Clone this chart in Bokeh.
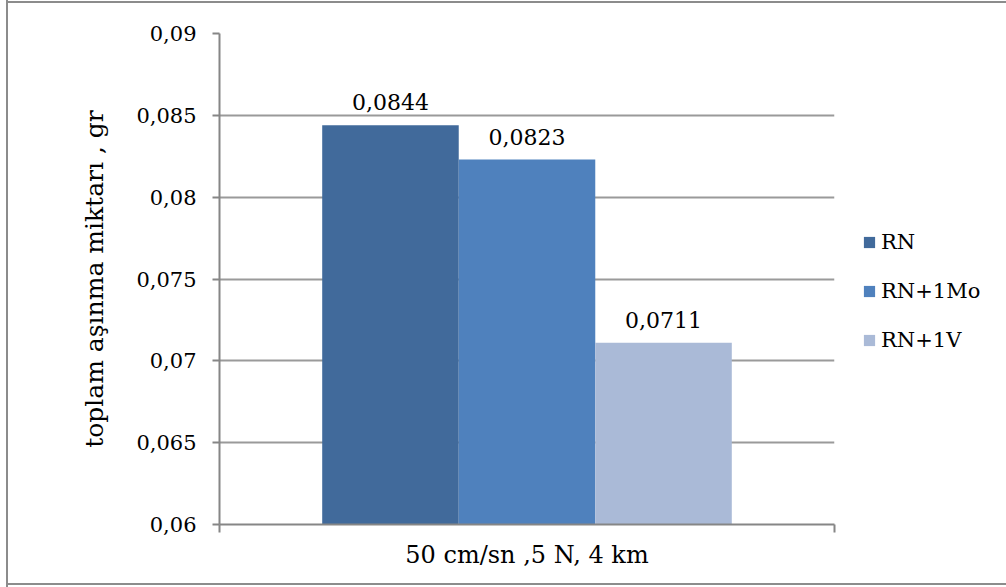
from bokeh.plotting import figure
from bokeh.models import (Range1d, FixedTicker, Legend, LegendItem, ColumnDataSource,
                          InlineStyleSheet)
from bokeh.core.properties import value
from bokeh.embed import file_html
from bokeh.resources import INLINE

# data
category = ["50 cm/sn ,5 N, 4 km"]
series = ["RN", "RN+1Mo", "RN+1V"]
values = [0.0844, 0.0823, 0.0711]
colors = ["#416A9B", "#4F81BD", "#AABAD7"]
y_ticks = [0.06, 0.065, 0.07, 0.075, 0.08, 0.085, 0.09]
y_tick_labels = ["0,06", "0,065", "0,07", "0,075", "0,08", "0,085", "0,09"]

FONT = "DejaVu Serif"
GRAY = "#868686"

# one category slot spans [0, 1] on the x scale
p = figure(frame_width=615, frame_height=491, x_range=Range1d(0, len(category)),
           y_range=Range1d(0.06, 0.09), output_backend="svg", toolbar_location=None,
           min_border_left=219, min_border_right=172,
           min_border_top=33, min_border_bottom=63)
p.outline_line_color = None
p.background_fill_color = "white"
p.border_fill_color = None
p.xgrid.grid_line_color = None

# thin gray frame around the whole chart area (left, top and bottom edges)
p.stylesheets = [InlineStyleSheet(css=(
    ":host { background: white; box-shadow: "
    "inset 6px 0 0 0 #ffffff, inset 8px 0 0 0 #8c8c8c, "
    "inset 0 1px 0 0 #ffffff, inset 0 3px 0 0 #8c8c8c, "
    "inset 0 -2px 0 0 #ffffff, inset 0 -4px 0 0 #8c8c8c; }"
))]

# y axis
ya = p.yaxis[0]
ya.ticker = FixedTicker(ticks=y_ticks)
ya.major_label_overrides = {t: s for t, s in zip(y_ticks, y_tick_labels)}
ya.major_label_text_font = FONT
ya.major_label_text_font_size = "21px"
ya.major_label_text_color = "black"
ya.major_label_standoff = 16
ya.axis_line_color = GRAY
ya.axis_line_width = 2
ya.major_tick_line_color = GRAY
ya.major_tick_line_width = 2
ya.major_tick_out = 7
ya.major_tick_in = 0
ya.minor_tick_line_color = None
ya.axis_label = "toplam aşınma miktarı , gr"
ya.axis_label_text_font = FONT
ya.axis_label_text_font_size = "25px"
ya.axis_label_text_font_style = "normal"
ya.axis_label_text_color = "black"
ya.axis_label_standoff = 24

p.ygrid.grid_line_color = "#9a9a9a"
p.ygrid.grid_line_width = 2

# x axis: ticks at the category boundaries, category name centred below
xa = p.xaxis[0]
bounds = list(range(len(category) + 1))
xa.ticker = FixedTicker(ticks=bounds)
xa.major_label_overrides = {b: "" for b in bounds}
xa.major_label_text_font_size = "1px"
xa.major_label_standoff = 0
xa.axis_line_color = GRAY
xa.axis_line_width = 2
xa.major_tick_line_color = GRAY
xa.major_tick_line_width = 2
xa.major_tick_out = 8
xa.major_tick_in = 0
xa.minor_tick_line_color = None
xa.axis_label = category[0]
xa.axis_label_text_font = FONT
xa.axis_label_text_font_size = "24px"
xa.axis_label_text_font_style = "normal"
xa.axis_label_text_color = "black"
xa.axis_label_standoff = 8

# bars, grouped around the centre of the category slot
width = 0.222
offsets = [-width, 0.0, width]
items = []
for name, val, col, off in zip(series, values, colors, offsets):
    xs = [i + 0.5 + off for i in range(len(category))]
    src = ColumnDataSource(dict(x=xs, top=[val], label=[f"{val:.4f}".replace(".", ",")]))
    r = p.vbar(x="x", top="top", bottom=0.06, width=width,
               source=src, fill_color=col, line_color=None)
    p.text(x="x", y="top", text="label", source=src,
           text_align="center", text_baseline="bottom", y_offset=-15,
           text_font=value(FONT), text_font_size="22px", text_color="black")
    items.append(LegendItem(label=name, renderers=[r]))

legend = Legend(items=items, location=(28, 172), orientation="vertical",
                label_text_font=FONT, label_text_font_size="21px",
                label_text_color="black", glyph_width=14, glyph_height=14,
                label_height=20, spacing=25, padding=0, margin=0,
                label_standoff=5, border_line_color=None, background_fill_alpha=0)
p.add_layout(legend, "right")

open("out.html", "w").write(file_html(p, INLINE))
